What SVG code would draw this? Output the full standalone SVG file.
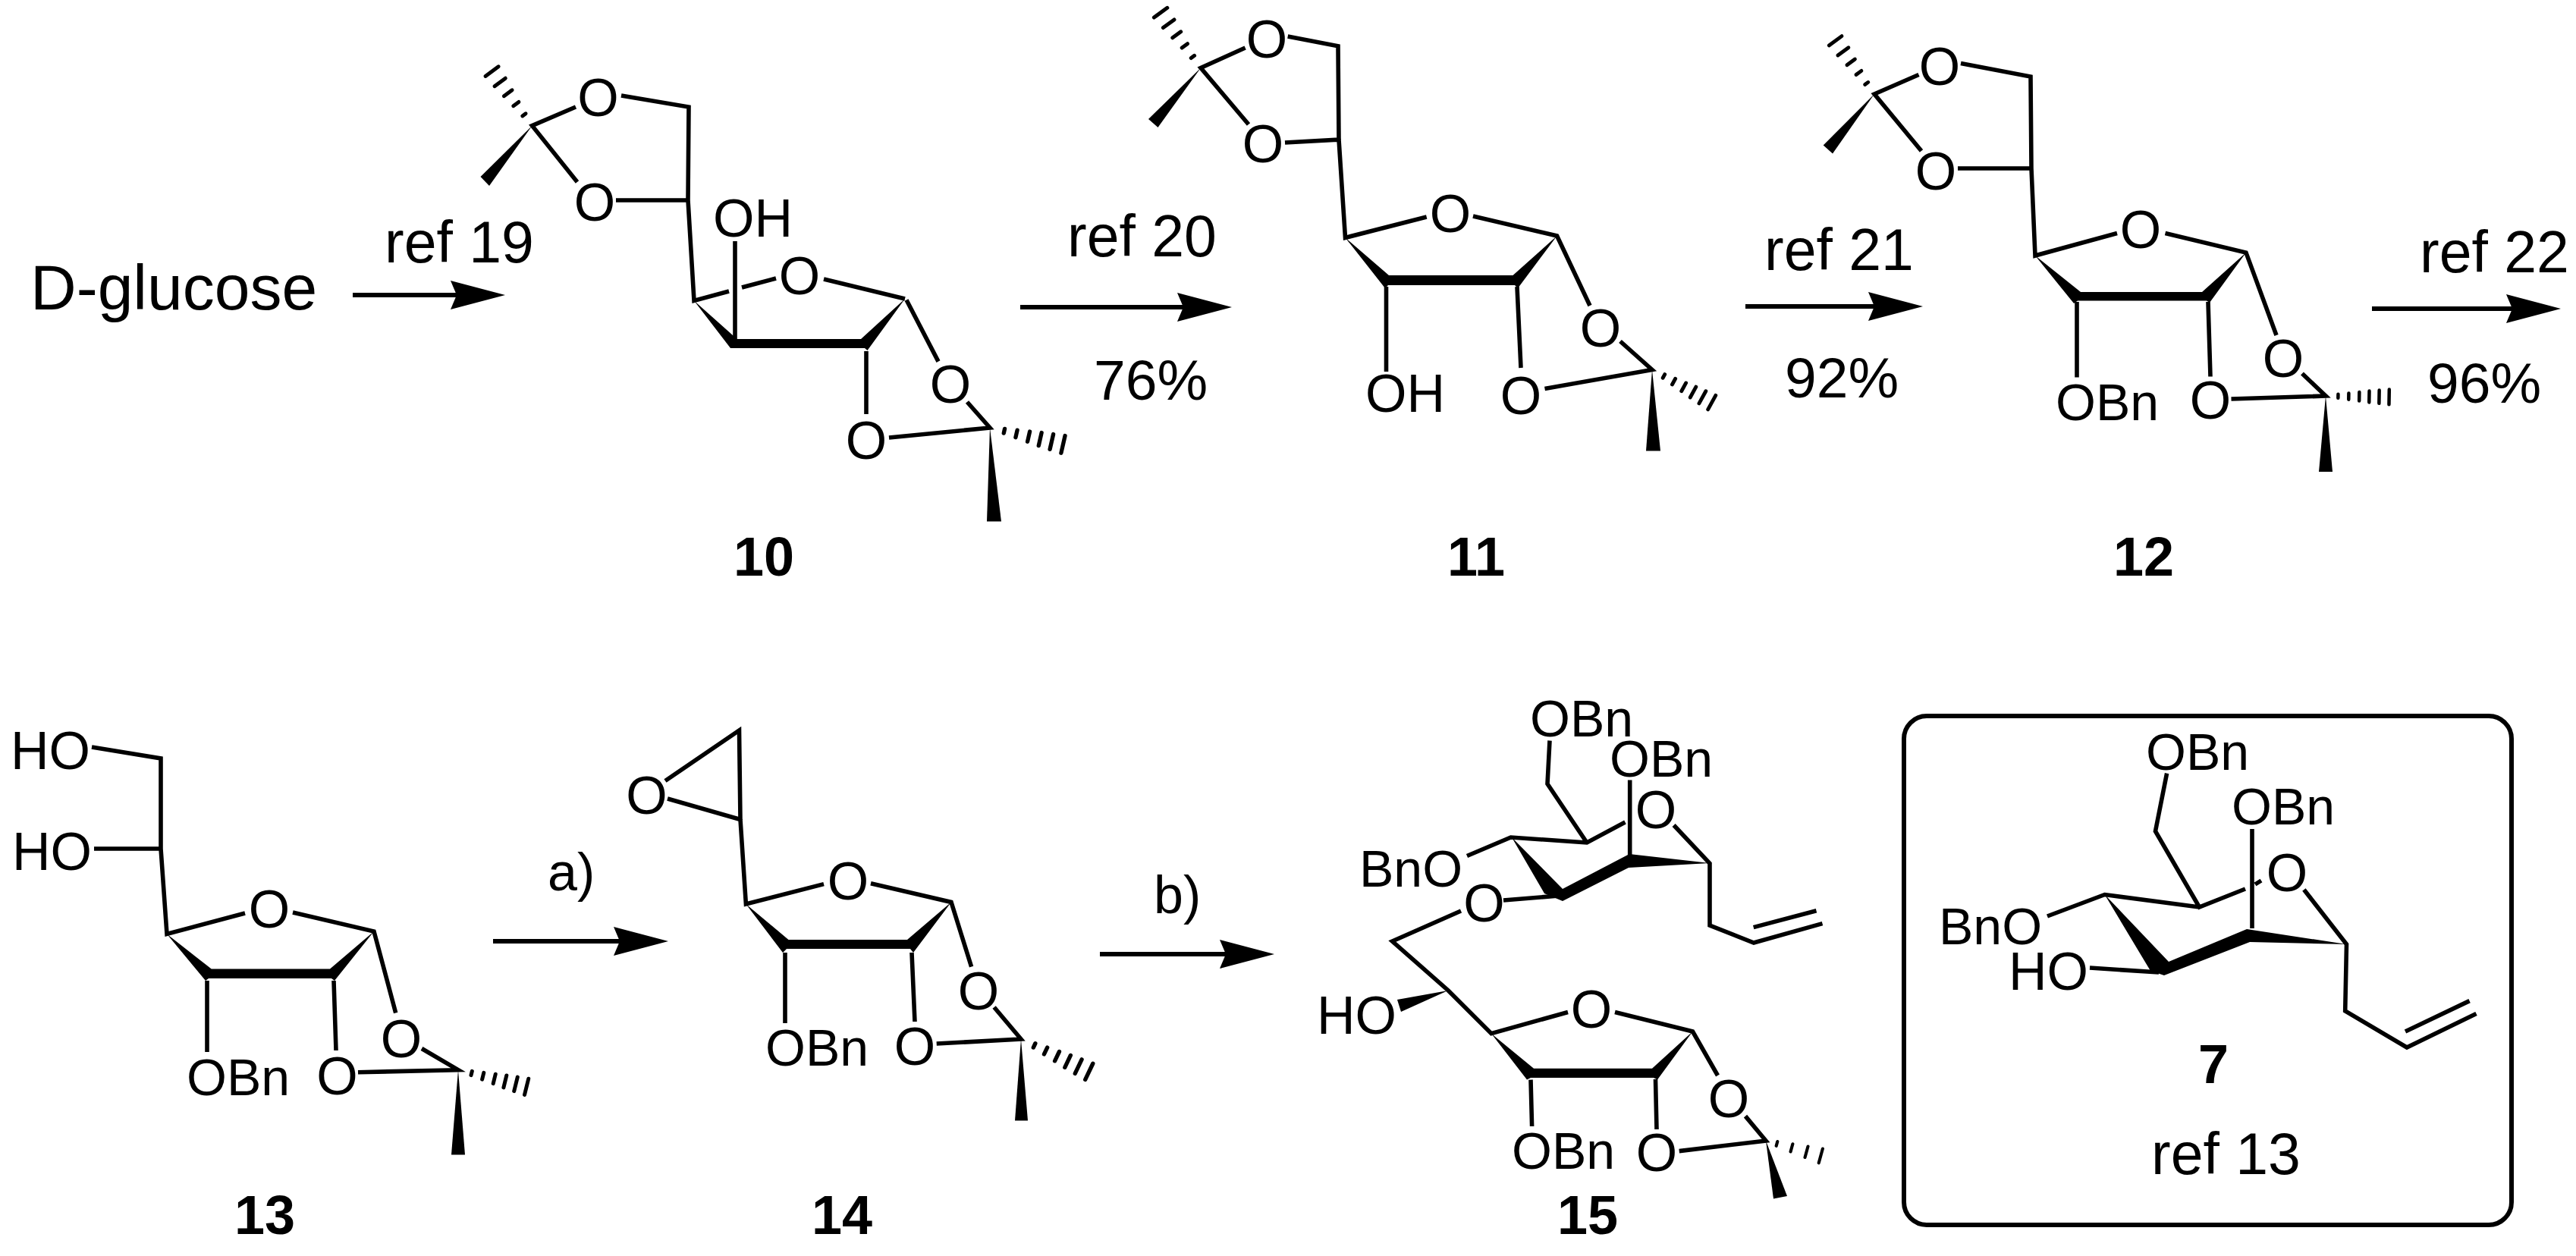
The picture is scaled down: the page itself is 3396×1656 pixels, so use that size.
<svg xmlns="http://www.w3.org/2000/svg" xmlns:xlink="http://www.w3.org/1999/xlink" width="3396" height="1656" viewBox="0 0 3396 1656">
<style>
text{font-family:"Liberation Sans",Arial,sans-serif;fill:#000}
.t{font-size:70px}
.u{font-size:68px}
.o{font-size:70px;text-anchor:middle}
.r{font-size:77px}
.n{font-size:75px}
.l{font-size:72px;font-weight:bold}
.b{fill:none;stroke:#000;stroke-width:5.600;stroke-linejoin:miter}
.w{fill:#000;stroke:none}
.h{fill:none;stroke:#000;stroke-width:5.500;stroke-linecap:round;vector-effect:non-scaling-stroke}
.a{stroke:#000;stroke-width:6;fill:none;marker-end:url(#ah)}
</style>
<defs>
<marker id="ah" markerUnits="userSpaceOnUse" markerWidth="72" markerHeight="38" viewBox="0 0 72 38" refX="8" refY="19" orient="auto"><path d="M0 0L72 19L0 38L8 19Z" fill="#000"/></marker>
<path id="h6" d="M20 -3V3M37 -5V5M54 -7V7M70 -9V9M86 -10.500V10.500M102 -12V12"/>
<path id="h5" d="M20 -3V3M40 -5V5M60 -7.500V7.500M80 -10V10M100 -12V12"/>
<path id="h4" d="M20 -4V4M47 -7V7M74 -10V10M100 -13V13"/>
</defs>
<rect width="3396" height="1656" fill="#fff"/>
<g id="connectors">
<path class="a" d="M465 389H602"/>
<path class="a" d="M1345 405H1560"/>
<path class="a" d="M2301 404H2471"/>
<path class="a" d="M3127 407H3312"/>
<path class="a" d="M650 1241H817"/>
<path class="a" d="M1450 1258H1616"/>
</g>
<g id="reagents">
<text class="t" x="40" y="408" style="font-size:84px">D-glucose</text>
<text class="r" x="507" y="346">ref 19</text>
<text class="r" x="1407" y="338">ref 20</text>
<text class="n" x="1442" y="527">76%</text>
<text class="r" x="2326" y="356">ref 21</text>
<text class="n" x="2353" y="524">92%</text>
<text class="r" x="3190" y="359">ref 22</text>
<text class="n" x="3200" y="531">96%</text>
<text class="t" x="722" y="1174">a)</text>
<text class="t" x="1521" y="1204">b)</text>
</g>
<g id="mol10">
<path class="b" d="M759 141L701.500 165.700L761 240M819 126L908 141L907 264L812 264M907 264L915 396.500L961 384M978 379L1023 367M969 318V448M1086 368L1193 394"/>
<path class="b" d="M1142 463V546M1195 395.500L1237 476.600M1275 530L1305 564L1172 577"/>
<polygon class="w" points="701.500,165.700 633.500,233 645,245"/>
<use href="#h5" class="h" transform="translate(701.500 165.700) rotate(233.500) scale(.89)"/>
<polygon class="w" points="915,396.500 971.600,447 1135,447 1193,394 1143.500,462 1140,459 963,459"/>
<polygon class="w" points="1305,564 1301,687.500 1320,687.500"/>
<use href="#h6" class="h" transform="translate(1305 564) rotate(12.800) scale(.97)"/>
<text class="o" x="788.500" y="153">O</text>
<text class="o" x="784" y="291">O</text>
<text class="t" x="940" y="312">OH</text>
<text class="o" x="1054" y="388">O</text>
<text class="o" x="1253" y="531">O</text>
<text class="o" x="1142" y="605">O</text>
<text class="l" x="967" y="759">10</text>
</g>
<g id="mol11">
<path class="b" d="M1641.600 63L1583 89.500L1646 164M1697.700 48L1764 60.700L1765 184L1694 188M1765 184L1773.500 313.400L1880.700 286M1942 285L2052.600 311L2096 403M1827.500 378V490M2000 378L2005 485M2136 450L2178 487.500L2036.500 512.400"/>
<polygon class="w" points="1583,89.500 1514,157 1526.500,168"/>
<use href="#h5" class="h" transform="translate(1583 89.500) rotate(234) scale(.9)"/>
<polygon class="w" points="1773.500,313.400 1831,363 1994.500,363 2052.600,311 2001,380 1997,376 1830,376 1826,380"/>
<polygon class="w" points="2178,487.500 2170,594.500 2189,594.500"/>
<use href="#h6" class="h" transform="translate(2178 487.500) rotate(28.700) scale(.88)"/>
<text class="o" x="1670" y="76">O</text>
<text class="o" x="1665" y="214">O</text>
<text class="o" x="1912" y="306">O</text>
<text class="t" x="1800" y="543">OH</text>
<text class="o" x="2005" y="546">O</text>
<text class="o" x="2110" y="457">O</text>
<text class="l" x="1908" y="759">11</text>
</g>
<g id="mol12">
<path class="b" d="M2529.500 98.500L2471 124L2533 199M2585 83.600L2677 101L2678 222L2581 222M2678 222L2683 337L2791 307.500M2854.500 307.500L2961 333L3001 442M2738 398V497.500M2911 398L2914 496.500M3035 492.500L3066 522L2941.500 526"/>
<polygon class="w" points="2471,124 2403.700,191.500 2416,202.500"/>
<use href="#h5" class="h" transform="translate(2471 124) rotate(233.800) scale(.87)"/>
<polygon class="w" points="2683,337 2743,385 2903,385 2961,333 2913,399 2909,396.500 2739,396.500 2734,400"/>
<polygon class="w" points="3066,522 3057,622 3075,622"/>
<use href="#h6" class="h" transform="translate(3066 522) rotate(1) scale(.82)"/>
<text class="o" x="2557" y="112">O</text>
<text class="o" x="2552" y="250">O</text>
<text class="o" x="2822" y="327">O</text>
<text class="u" x="2710" y="554">OBn</text>
<text class="o" x="2914" y="552">O</text>
<text class="o" x="3010" y="497">O</text>
<text class="l" x="2786" y="759">12</text>
</g>
<g id="mol13">
<path class="b" d="M121 985L212 1000L212 1119L124 1119M212 1119L220 1231.500L323 1204M386 1203L493 1228L521.700 1335.500M273 1293V1387M440 1293L443 1385M556 1382.500L604 1410.700L472 1413.700"/>
<polygon class="w" points="220,1231.500 278.700,1277.500 435,1277.500 493,1228 441,1293 437,1290 275,1290 271,1293"/>
<polygon class="w" points="604,1410.700 595,1522.600 613,1522.600"/>
<use href="#h6" class="h" transform="translate(604 1410.700) rotate(13.800) scale(.91)"/>
<text class="t" x="14" y="1014">HO</text>
<text class="t" x="16" y="1147">HO</text>
<text class="o" x="355" y="1223">O</text>
<text class="u" x="246" y="1444">OBn</text>
<text class="o" x="444.500" y="1443">O</text>
<text class="o" x="529" y="1394">O</text>
<text class="l" x="309" y="1627">13</text>
</g>
<g id="mol14">
<path class="b" d="M877 1029.500L974.500 963L976 1080.500L983.400 1192L1086 1165.600M976 1080.500L880 1053M1148 1164.700L1254 1189.400L1280.600 1274.600M1035 1256V1349M1202 1256L1206 1347M1310.600 1328L1346 1370L1234.700 1376"/>
<polygon class="w" points="983.400,1192 1039.500,1239 1196,1239 1254,1189.400 1204,1256 1200,1251 1037,1251 1032,1256"/>
<polygon class="w" points="1346,1370 1338,1477.500 1355,1477.500"/>
<use href="#h6" class="h" transform="translate(1346 1370) rotate(25.500) scale(.975)"/>
<text class="o" x="852.600" y="1073">O</text>
<text class="o" x="1118" y="1186">O</text>
<text class="u" x="1009" y="1405">OBn</text>
<text class="o" x="1206" y="1404">O</text>
<text class="o" x="1290" y="1331">O</text>
<text class="l" x="1070" y="1627">14</text>
</g>
<g id="mol15">
<path class="b" d="M1934 1128.500L1991.700 1104L2092 1111L2142.500 1084M2043 976.500L2040 1033.500L2092 1111M2148.700 1028.500V1127.500M2206.600 1088L2254 1138.400V1220L2312 1243L2402.500 1217.600M2311.700 1222.600L2394.500 1200.800M1982 1187L2055 1181M1926 1201L1835.500 1241L1909 1305.700L1966 1362.700L2067 1334.500M2129 1334.500L2231.500 1360L2264.500 1418M2018 1423.600L2019.600 1485M2182.500 1423L2184 1489M2301 1471.600L2328 1504L2213.700 1517.600"/>
<polygon class="w" points="1993,1104 2060,1172 2148,1126 2254,1138 2147,1144 2060,1188 2036,1178"/>
<polygon class="w" points="1909,1306 1842,1318 1847,1334"/>
<polygon class="w" points="1966,1362.700 2022,1408.700 2178,1408.700 2231.500,1360 2185,1423.600 2180,1421 2018,1421 2013,1423.600"/>
<polygon class="w" points="2328,1504 2338,1580.500 2356,1577"/>
<use href="#h4" class="h" transform="translate(2328 1504) rotate(15.400) scale(.75)"/>
<text class="u" x="2017" y="971">OBn</text>
<text class="u" x="2122" y="1024">OBn</text>
<text class="o" x="2183" y="1092">O</text>
<text class="u" x="1792" y="1169">BnO</text>
<text class="o" x="1956.600" y="1215">O</text>
<text class="t" x="1736" y="1363">HO</text>
<text class="o" x="2098" y="1355">O</text>
<text class="u" x="1993" y="1541">OBn</text>
<text class="o" x="2184" y="1544">O</text>
<text class="o" x="2279" y="1473">O</text>
<text class="l" x="2053" y="1627">15</text>
</g>
<g id="mol7">
<rect x="2510" y="944" width="801" height="671" rx="30" ry="30" style="fill:none;stroke:#000;stroke-width:6"/>
<path class="b" d="M2856.600 1019.600L2841.500 1096L2899.400 1196L2960 1172M2973 1166L2981 1161M2899.400 1196L2774.700 1179.500L2699 1208M2969 1093V1224M3037.400 1173L3093.500 1245L3091.700 1333L3173 1381L3264.500 1336.400M3171 1360L3255.600 1319.600M2755 1276L2846 1282"/>
<polygon class="w" points="2774.700,1179.500 2859,1268 2962,1225 3093.500,1245 2966,1242 2853,1286 2835,1280"/>
<text class="u" x="2829" y="1015">OBn</text>
<text class="u" x="2942" y="1087">OBn</text>
<text class="o" x="3015" y="1175">O</text>
<text class="u" x="2556" y="1245">BnO</text>
<text class="t" x="2648" y="1305">HO</text>
<text class="l" x="2898" y="1428">7</text>
<text class="r" x="2836" y="1548">ref 13</text>
</g>
</svg>
